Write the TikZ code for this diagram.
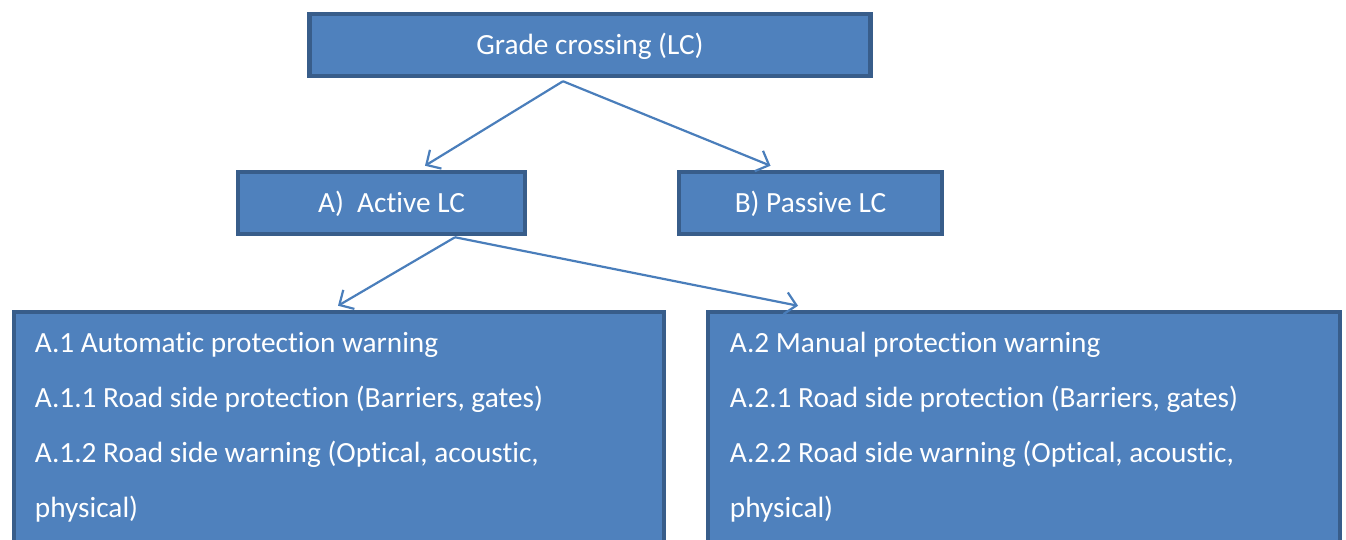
\documentclass[tikz,border=0pt]{standalone}
\usepackage{fontspec}
\setmainfont{Carlito}[Ligatures=CommonOff]
\usetikzlibrary{arrows.meta,calc}
\definecolor{boxfill}{HTML}{4F81BD}
\definecolor{boxline}{HTML}{385D8A}
\definecolor{arrowc}{HTML}{4A7EBB}
\begin{document}
\begin{tikzpicture}[x=1pt,y=-1pt,
 box/.style={draw=boxline, fill=boxfill, line width=4.5pt, text=white,
   font=\fontsize{29.3}{35}\selectfont, inner sep=0pt, text depth=2pt},
 listbox/.style={draw=boxline, fill=boxfill, line width=4.5pt, inner sep=0pt},
 listtext/.style={text=white, align=left, inner sep=0pt, anchor=north west,
   font=\fontsize{29.3}{55}\selectfont},
 conn/.style={draw=arrowc, line width=2.2pt,
   -{Straight Barb[length=11pt,width=22pt,line width=2.2pt]}}]
\useasboundingbox (0,0) rectangle (1346,540);
\clip (0,0) rectangle (1346,540);
\node[box, minimum width=561pt, minimum height=62pt] (top) at (590,45) {Grade crossing (LC)};
\node[box, minimum width=287pt, minimum height=62pt] (A) at (381.5,203) {\hspace*{20pt}A)\ \ Active LC};
\node[box, minimum width=263pt, minimum height=62pt] (B) at (810.5,203) {B) Passive LC};
\node[listbox, minimum width=650pt, minimum height=240pt] (L) at (339,432) {};
\node[listbox, minimum width=632pt, minimum height=240pt] (R) at (1024,432) {};
\node[listtext] (Ltext) at ($(L.north west)+(23,22)$)
 {A.1 Automatic protection warning\\
  A.1.1 Road side protection (Barriers, gates)\\
  A.1.2 Road side warning (Optical, acoustic,\\
  physical)};
\node[listtext] (Rtext) at ($(R.north west)+(24,22)$)
 {A.2 Manual protection warning\\
  A.2.1 Road side protection (Barriers, gates)\\
  A.2.2 Road side warning (Optical, acoustic,\\
  physical)};
\draw[conn] ($(top.south)+(-27,3)$) -- ($(A.north)+(43.5,-4)$);
\draw[conn] ($(top.south)+(-27,3)$) -- ($(B.north)+(-40,-4)$);
\draw[conn] ($(A.south)+(73.5,1)$) -- ($(L.north)+(-1,-4)$);
\draw[conn] ($(A.south)+(73.5,1)$) -- ($(R.north)+(-226,-4)$);
\end{tikzpicture}
\end{document}
